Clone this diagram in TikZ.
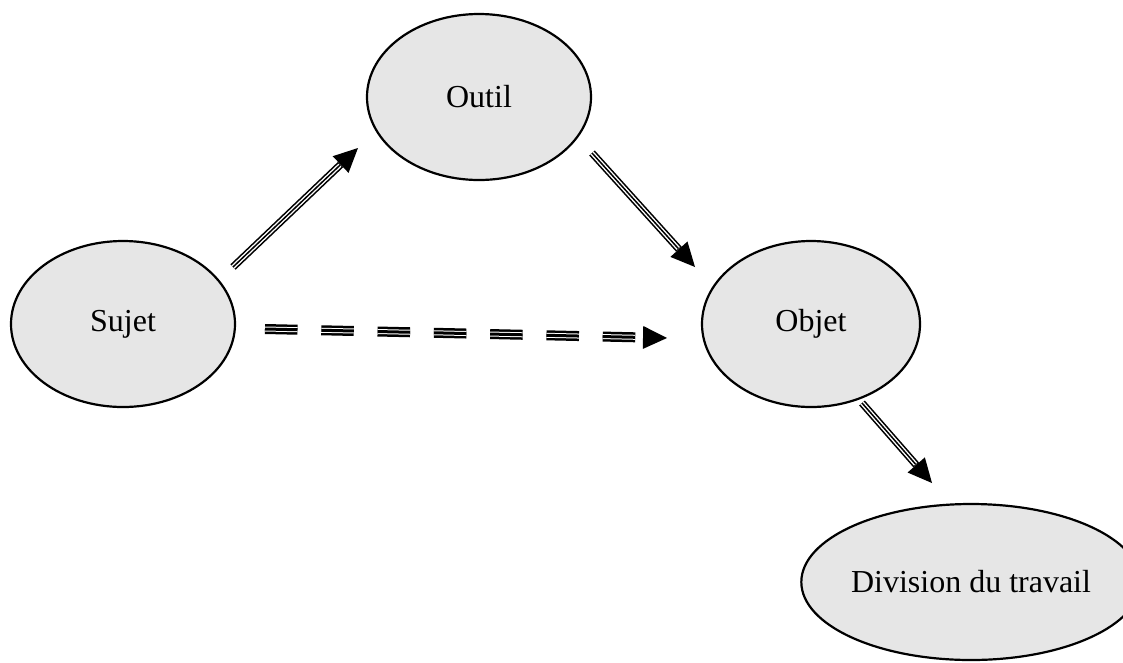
\documentclass[tikz,border=0pt]{standalone}
\usepackage{fontspec}
\setmainfont{Liberation Serif}
\usetikzlibrary{shapes.geometric}
\usetikzlibrary{arrows.meta}
\newcommand{\headlength}{24pt}
\definecolor{bubblegray}{RGB}{230,230,230}
\tikzstyle{bubble}=[ellipse, draw, line width=2.2pt, fill=bubblegray, inner sep=0,
                    minimum width=224pt, minimum height=166pt, font=\fontsize{32}{38}\selectfont]
\tikzstyle{head}=[-{Triangle[length=\headlength, width=23pt, line width=0pt]}]
\tikzstyle{dashes}=[dash pattern=on 32.5pt off 23.8pt]
% three black strokes with white gaps between them
\tikzstyle{tripleline}=[head, line width=7.5pt,
                        postaction={draw=white, line width=4.3pt, -, shorten >=\headlength+1pt},
                        postaction={draw=black, line width=1.5pt, -, shorten >=\headlength+1pt}]
\tikzstyle{tripledash}=[head, line width=10pt, dashes,
                        postaction={draw=white, line width=5pt, -, dashes, shorten >=\headlength+1pt},
                        postaction={draw=black, line width=3pt, -, dashes, shorten >=\headlength+1pt}]

\begin{document}
\begin{tikzpicture}[x=1pt, y=-1pt]
    \useasboundingbox (0, 0) rectangle (1123, 662);
    \node[bubble] (Sujet) at (123, 324) {Sujet};
    \node[bubble] (Outil) at (479, 97) {Outil};
    \node[bubble, minimum width=218pt] (Objet) at (811, 324) {Objet};
    \node[bubble, minimum width=298pt, minimum height=156pt] (Division) at (971, 582) {Division du travail};
    \draw[tripleline] ([shift={(110, -57)}]Sujet.center) -- ([shift={(-121, 51)}]Outil.center);
    \draw[tripleline] ([shift={(113, 56)}]Outil.center) -- ([shift={(-116, -57)}]Objet.center);
    \draw[tripledash] ([shift={(142, 5)}]Sujet.center) -- ([shift={(-144, 14)}]Objet.center);
    \draw[tripleline] ([shift={(51, 79)}]Objet.center) -- ([shift={(-39, -99)}]Division.center);
\end{tikzpicture}
\end{document}
